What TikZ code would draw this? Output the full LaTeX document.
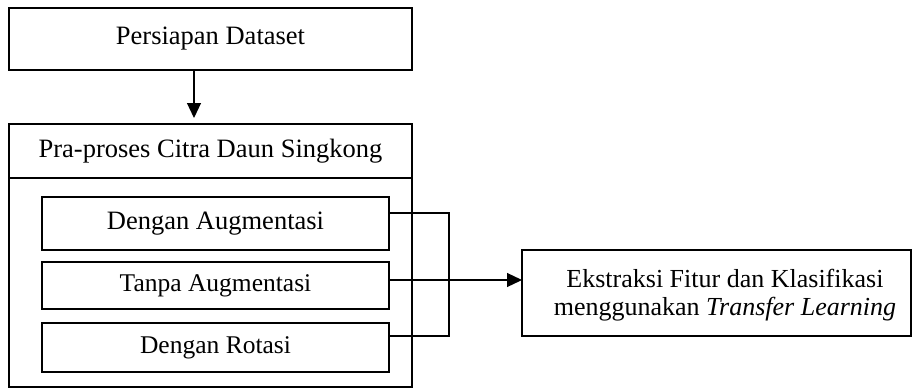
\documentclass[tikz,border=0pt]{standalone}
\usepackage{fontspec}
\setmainfont{Liberation Serif}
\usetikzlibrary{arrows.meta}
\begin{document}
\begin{tikzpicture}[x=1pt,y=-1pt,
  box/.style={draw,line width=1.8pt,inner sep=0pt,outer sep=0pt,align=center,font=\fontsize{26.5}{30}\selectfont},
  conn/.style={line width=1.2pt},
  arr/.style={line width=1.2pt,-{Triangle[length=15pt,width=14pt]}}]
\useasboundingbox (0,0) rectangle (913,389);
\node[box,minimum width=403pt,minimum height=62pt] (top) at (210.5,39) {Persiapan Dataset};
\node[box,minimum width=403pt,minimum height=54pt] (hdr) at (210.5,151) {Pra-proses Citra Daun Singkong};
\node[box,minimum width=403pt,minimum height=209pt] (body) at (210.5,282.5) {};
\node[box,minimum width=347pt,minimum height=53pt] (b1) at (215.5,223.5) {Dengan Augmentasi};
\node[box,minimum width=347pt,minimum height=47pt,font=\fontsize{25.5}{30}\selectfont] (b2) at (215.5,285.5) {Tanpa Augmentasi};
\node[box,minimum width=347pt,minimum height=49pt,font=\fontsize{25.5}{30}\selectfont] (b3) at (215.5,347.5) {Dengan Rotasi};
\node[box,minimum width=389pt,minimum height=86pt] (tgt) at (716.5,293) {};
\node[align=center,inner sep=0pt,font=\fontsize{26}{28}\selectfont] (tgttext) at (725,295) {Ekstraksi Fitur dan Klasifikasi\\menggunakan \textit{Transfer Learning}};
\coordinate (a1) at (194,70);
\coordinate (a2) at (194,118);
\draw[arr] (a1) -- (a2);
\coordinate (j1) at (449,213);
\coordinate (m) at (449,280);
\coordinate (j3) at (449,336);
\draw[conn] (b1.east |- j1) -- (j1) -- (j3) -- (b3.east |- j3);
\draw[conn] (b2.east |- m) -- (m);
\draw[arr] (m) -- (tgt.west |- m);
\end{tikzpicture}
\end{document}
